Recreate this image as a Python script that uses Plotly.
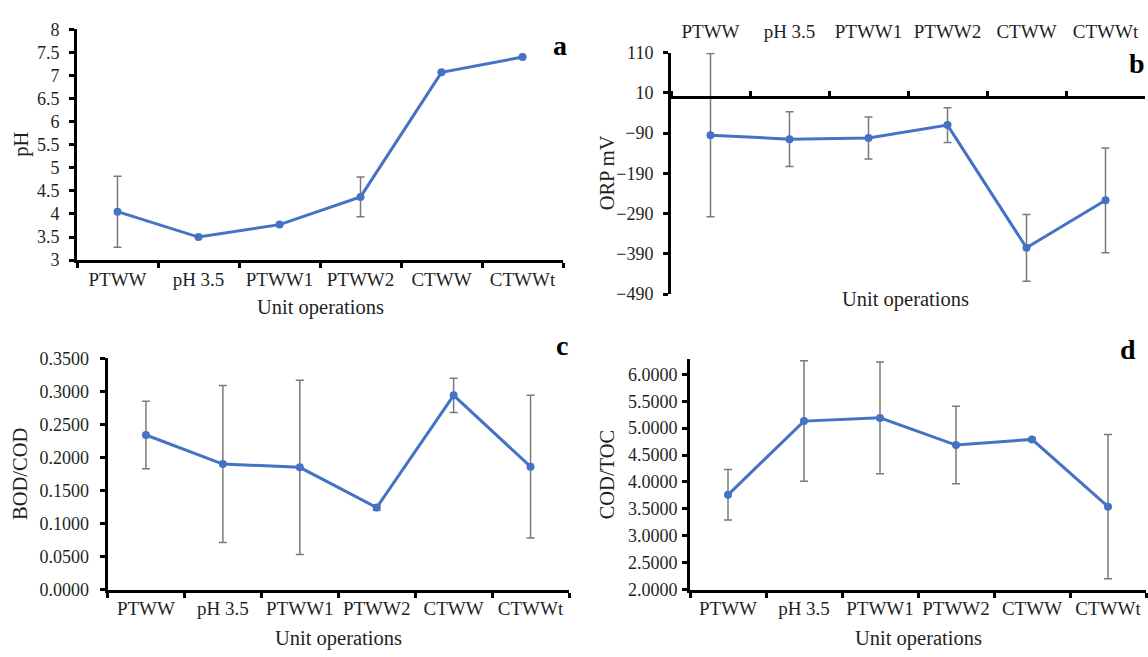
import plotly.graph_objects as go

# ---------------- data ----------------
categories = ["PTWW", "pH 3.5", "PTWW1", "PTWW2", "CTWW", "CTWWt"]

ph_mean = [4.05, 3.50, 3.77, 4.37, 7.07, 7.40]
ph_err = [0.77, 0.0, 0.0, 0.43, 0.0, 0.0]

orp_mean = [-95, -105, -102, -70, -375, -257]
orp_err = [203, 68, 52, 43, 83, 130]

bod_cod_mean = [0.234, 0.190, 0.185, 0.124, 0.294, 0.186]
bod_cod_err = [0.051, 0.119, 0.132, 0.004, 0.026, 0.108]

cod_toc_mean = [3.76, 5.13, 5.19, 4.685, 4.79, 3.54]
cod_toc_err = [0.47, 1.12, 1.04, 0.72, 0.02, 1.34]

panel_letters = ["a", "b", "c", "d"]
x_title = "Unit operations"
y_titles = ["pH", "ORP mV", "BOD/COD", "COD/TOC"]

# ---------------- style ----------------
W, H = 1148, 657
LINE_COLOR = "#4472C4"
ERR_COLOR = "#7a7a7a"
FONT = "Liberation Serif, Times New Roman, serif"
TXT = "#1f1f1f"

xtickfont = dict(family=FONT, size=19, color=TXT)
ytickfont = dict(family=FONT, size=18, color=TXT)
titlefont = dict(family=FONT, size=20.5, color=TXT)


def dom_x(l, r):
    return [l / W, r / W]


def dom_y(top, bottom):
    return [1 - bottom / H, 1 - top / H]


def series(y, err, xa, ya, visible=True):
    return go.Scatter(
        x=categories, y=y, xaxis=xa, yaxis=ya,
        mode="lines+markers",
        line=dict(color=LINE_COLOR, width=3),
        marker=dict(color=LINE_COLOR, size=8),
        error_y=dict(type="data", array=err, visible=True,
                     color=ERR_COLOR, thickness=1.5, width=4),
        showlegend=False, hoverinfo="skip",
        opacity=1 if visible else 0,
    )


fig = go.Figure()
fig.add_trace(series(ph_mean, ph_err, "x", "y"))
fig.add_trace(series(orp_mean, orp_err, "x2", "y2"))
# copy on the crossing (zero-line) axis, invisible, only to register categories
fig.add_trace(series(orp_mean, [0] * 6, "x5", "y2", visible=False))
fig.add_trace(series(bod_cod_mean, bod_cod_err, "x3", "y3"))
fig.add_trace(series(cod_toc_mean, cod_toc_err, "x4", "y4"))

common_x = dict(
    type="category", range=[-0.5, 5.5], tickson="boundaries",
    ticks="outside", ticklen=5, tickwidth=2.5, tickcolor="black",
    showline=True, linewidth=3, linecolor="black", tickangle=0,
    showgrid=False, zeroline=False, tickfont=xtickfont,
    fixedrange=True,
)
common_y = dict(
    ticks="outside", ticklen=5, tickwidth=2.5, tickcolor="black",
    showline=True, linewidth=3, linecolor="black",
    showgrid=False, zeroline=False, tickfont=ytickfont,
    fixedrange=True,
)

# plot-area geometry (pixels)
A = dict(l=77, r=563, t=20, b=258)
B = dict(l=671, r=1145, t=44, b=293)
C = dict(l=107.5, r=569, t=359.3, b=597.7)
D = dict(l=690, r=1146, t=360.2, b=597.7)

# zero-crossing position for panel b
b_ymin, b_ymax = -490, 110
zero_px = B["t"] + (b_ymax - 0) / (b_ymax - b_ymin) * (B["b"] - B["t"])

fig.update_layout(
    width=W, height=H, autosize=False,
    margin=dict(l=0, r=0, t=0, b=0),
    paper_bgcolor="white", plot_bgcolor="rgba(0,0,0,0)",
    font=dict(family=FONT, size=18, color=TXT),
    showlegend=False,
    # panel a
    xaxis=dict(common_x, domain=dom_x(A["l"], A["r"]), anchor="y"),
    yaxis=dict(common_y, domain=dom_y(A["t"], A["b"]), anchor="x",
               range=[3, 8], tick0=3, dtick=0.5, ticklabelstandoff=6),
    # panel b (labels on top, axis line crossing at 0)
    xaxis2=dict(common_x, domain=dom_x(B["l"], B["r"]), anchor="y2",
                side="top", showline=False, ticks="", ticklabelstandoff=10),
    xaxis5=dict(common_x, overlaying="x2", anchor="free",
                position=1 - zero_px / H, side="top", showticklabels=False),
    yaxis2=dict(common_y, domain=dom_y(B["t"], B["b"]), anchor="x2",
                range=[b_ymin, b_ymax], tick0=10, dtick=100,
                ticklabelstandoff=6),
    # panel c
    xaxis3=dict(common_x, domain=dom_x(C["l"], C["r"]), anchor="y3"),
    yaxis3=dict(common_y, domain=dom_y(C["t"], C["b"]), anchor="x3",
                range=[0, 0.35], tick0=0, dtick=0.05, tickformat=".4f",
                ticklabelstandoff=7),
    # panel d
    xaxis4=dict(common_x, domain=dom_x(D["l"], D["r"]), anchor="y4"),
    yaxis4=dict(common_y, domain=dom_y(D["t"], D["b"]), anchor="x4",
                range=[2, 6.28], tick0=2, dtick=0.5, tickformat=".4f",
                ticklabelstandoff=1),
)

# axis titles (placed where the reference draws them)
x_title_pos = [(320, 307), (905, 299), (338, 648), (918, 648)]
for (px, py) in x_title_pos:
    fig.add_annotation(text=x_title, xref="paper", yref="paper",
                       x=px / W, y=1 - py / H, showarrow=False,
                       font=titlefont, xanchor="center", yanchor="middle")

y_title_pos = [(22, (A["t"] + A["b"]) / 2), (607, (B["t"] + B["b"]) / 2),
               (20, (C["t"] + C["b"]) / 2), (607, (D["t"] + D["b"]) / 2)]
for text, (px, py) in zip(y_titles, y_title_pos):
    fig.add_annotation(text=text, xref="paper", yref="paper",
                       x=px / W, y=1 - py / H, showarrow=False, textangle=-90,
                       font=titlefont, xanchor="center", yanchor="middle")

# panel letters
letter_pos = [(560, 37), (1137, 55), (562, 346), (1128, 350)]
for letter, (px, py) in zip(panel_letters, letter_pos):
    fig.add_annotation(text=f"<b>{letter}</b>", xref="paper", yref="paper",
                       x=px / W, y=1 - py / H, showarrow=False,
                       font=dict(family=FONT, size=28, color="black"),
                       xanchor="center", yanchor="middle")

fig.write_html(
    "out.html",
    config={"displayModeBar": False},
    post_script="document.body.style.margin='0';"
                "document.body.style.overflow='hidden';",
)
